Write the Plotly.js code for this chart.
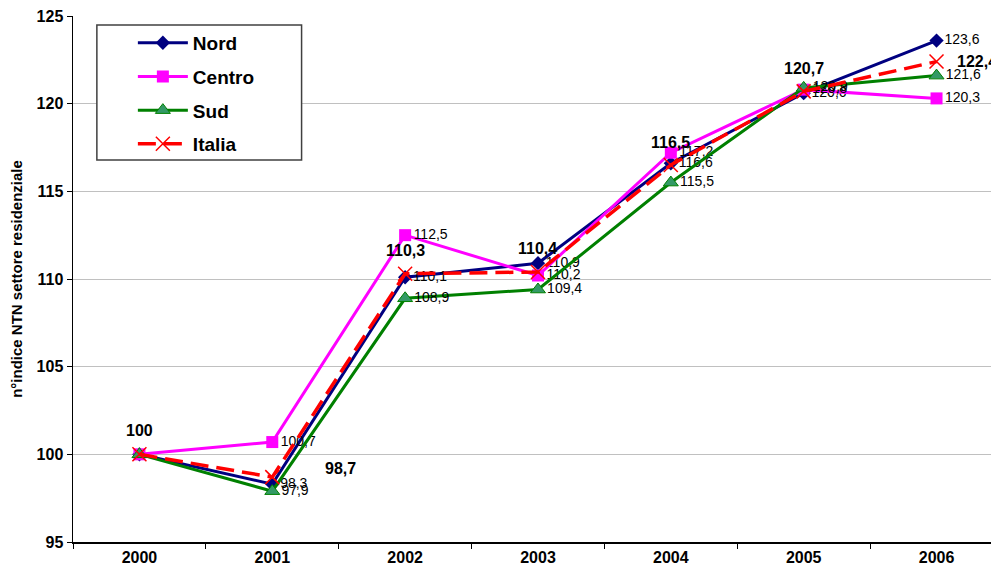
<!DOCTYPE html>
<html>
<head>
<meta charset="utf-8">
<script src="https://cdn.plot.ly/plotly-3.0.1.min.js"></script>
<style>
  html, body { margin: 0; padding: 0; background: #fff; }
  #chart { width: 991px; height: 574px; }
</style>
</head>
<body>
<div id="chart"></div>
<script>
/* ─── data ─────────────────────────────────────────────────────────────── */
const years  = ["2000", "2001", "2002", "2003", "2004", "2005", "2006"];
const nord   = [100, 98.3, 110.1, 110.9, 116.6, 120.6, 123.6];
const centro = [100, 100.7, 112.5, 110.2, 117.2, 120.8, 120.3];
const sud    = [100, 97.9, 108.9, 109.4, 115.5, 120.9, 121.6];
const italia = [100, 98.7, 110.3, 110.4, 116.5, 120.7, 122.4];

const FONT = "Liberation Sans, Arial, sans-serif";
const fmt = v => (Number.isInteger(v) ? String(v) : v.toFixed(1).replace(".", ","));
// small labels, none on the base year
const lbl = arr => arr.map((v, i) => (i === 0 ? "" : fmt(v)));

// offsets for the bold Italia labels (px)
const itaDx = [0, 68, 0, 0, 0, 0, 18];
const itaDy = [24, 9, 23, 23, 23, 23, 0];

function series(name, y, color, marker, group) {
  return {
    type: "scatter", mode: "lines+markers+text", x: years, y: y,
    name: name, legendgroup: group,
    line: { color: color, width: 3 },
    marker: marker,
    text: lbl(y), textposition: "middle right",
    textfont: { family: FONT, size: 14, color: "#000" },
    hoverinfo: "skip", cliponaxis: false
  };
}

const traces = [
  series("Nord", nord, "#000080", { symbol: "diamond", size: 11, color: "#000080" }, "a"),
  series("Centro", centro, "#FF00FF", { symbol: "square", size: 12, color: "#FF00FF" }, "b"),
  series("Sud", sud, "#008000", { symbol: "triangle-up", size: 13, color: "#339966", line: { color: "#008000", width: 1 } }, "c"),
  {
    type: "scatter", mode: "lines+markers", x: years, y: italia,
    name: "Italia", legendgroup: "d",
    line: { color: "#FF0000", width: 3.5, dash: "18px,8px" },
    marker: { symbol: "x-thin-open", size: 14, color: "#FF0000", line: { color: "#FF0000", width: 1.5 } },
    hoverinfo: "skip", cliponaxis: false
  }
];

const annotations = italia.map((v, i) => ({
  x: i, y: v, xref: "x", yref: "y",
  text: "<b>" + fmt(v) + "</b>", showarrow: false,
  xshift: itaDx[i], yshift: itaDy[i],
  xanchor: i === 6 ? "left" : "center", yanchor: "middle",
  font: { family: FONT, size: 16, color: "#000" }
}));

const layout = {
  width: 991, height: 574,
  margin: { l: 73, r: 0, t: 16, b: 32 },
  paper_bgcolor: "#fff", plot_bgcolor: "#fff",
  font: { family: FONT, color: "#000" },
  showlegend: true,
  legend: {
    x: 0.026, y: 0.985, xanchor: "left", yanchor: "top",
    bgcolor: "rgba(0,0,0,0)", borderwidth: 0,
    font: { family: FONT, size: 19, color: "#000", weight: "bold" },
    traceorder: "grouped", tracegroupgap: 6, itemwidth: 50, indentation: 36
  },
  // legend frame
  shapes: [{
    type: "rect", xref: "paper", yref: "paper", layer: "above",
    x0: 0.026, x1: 0.249, y0: 0.726, y1: 0.983,
    fillcolor: "#fff", line: { color: "#404040", width: 1.5 }
  }],
  xaxis: {
    type: "category", range: [-0.5, 6.41],
    showline: true, linecolor: "#000", linewidth: 1.5,
    ticks: "outside", tickson: "boundaries", ticklen: 5, tickcolor: "#000",
    showgrid: false, zeroline: false,
    tickfont: { family: FONT, size: 16, color: "#000", weight: "bold" }
  },
  yaxis: {
    range: [95, 125], dtick: 5,
    showline: true, linecolor: "#000", linewidth: 1.5,
    ticks: "outside", ticklen: 5, tickcolor: "#000",
    gridcolor: "#c0c0c0", gridwidth: 1, zeroline: false,
    tickfont: { family: FONT, size: 16, color: "#000", weight: "bold" },
    title: { text: "n°indice NTN settore residenziale", standoff: 10,
             font: { family: FONT, size: 15, color: "#000", weight: "bold" } }
  },
  annotations: annotations
};

Plotly.newPlot("chart", traces, layout, { displayModeBar: false, staticPlot: true });
</script>
</body>
</html>
